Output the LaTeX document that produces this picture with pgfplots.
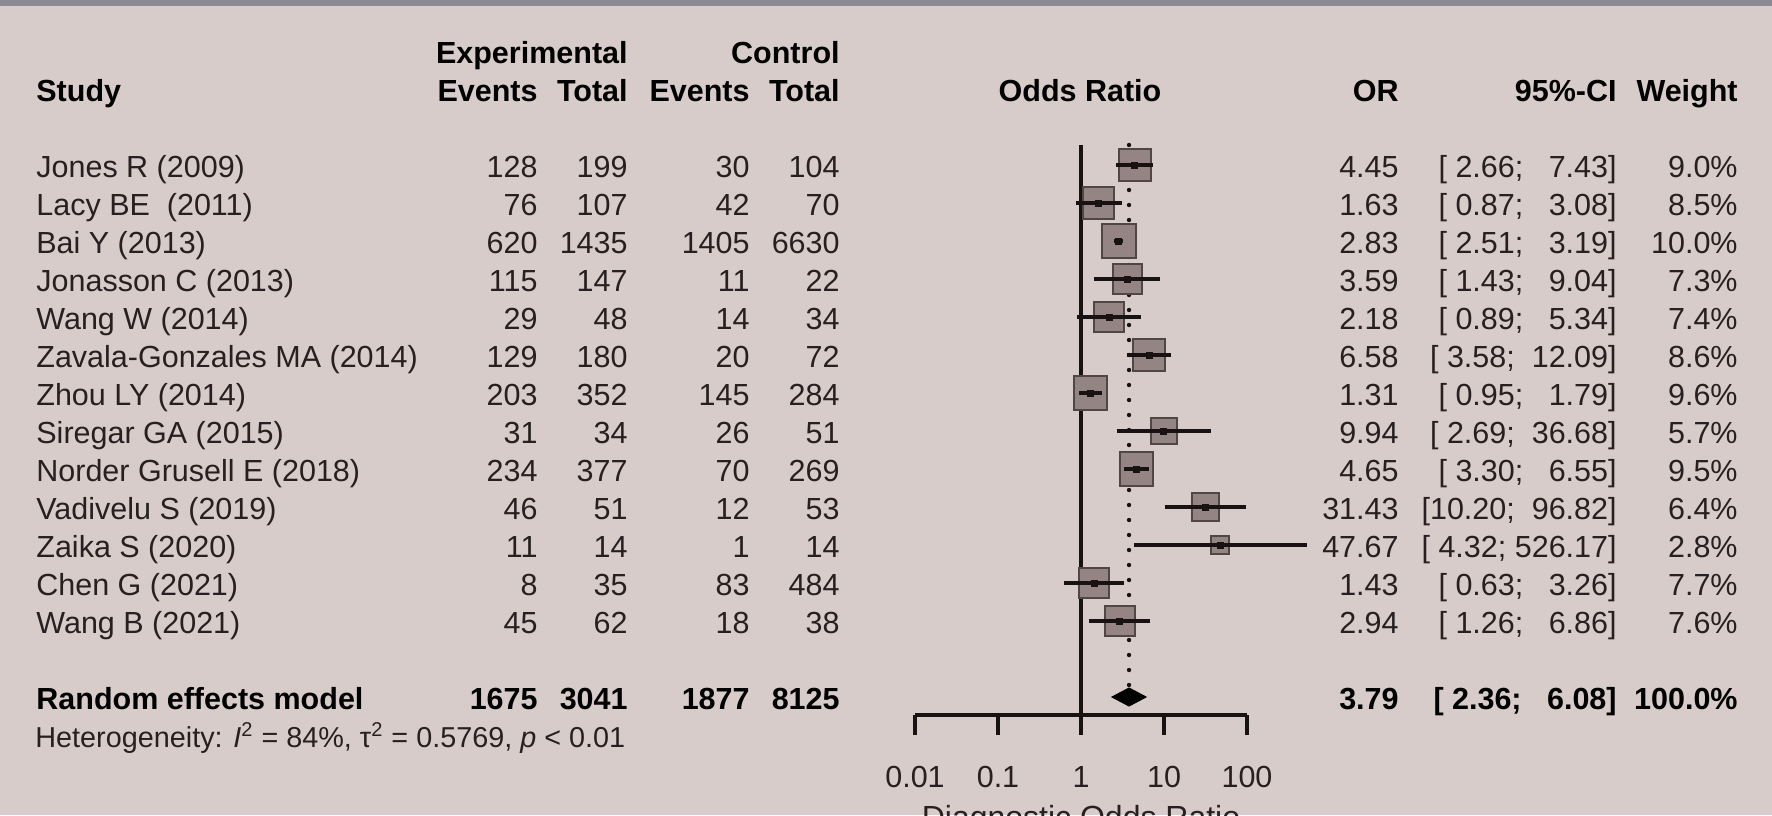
\documentclass[border=0pt]{standalone}
\usepackage{fontspec}
\setmainfont{Liberation Sans}
\usepackage{pgfplots}
\pgfplotsset{compat=1.18}
\usepackage{pgfplotstable}

\definecolor{bg}{RGB}{216,204,203}
\definecolor{band}{RGB}{138,137,148}
\definecolor{boxfill}{RGB}{148,132,132}
\definecolor{boxdraw}{RGB}{80,70,70}
\definecolor{txt}{RGB}{40,32,32}
\definecolor{lin}{RGB}{25,18,18}

% study estimates: OR, CI, weight (%), vertical position (px from top, negated)
\pgfplotstableread{
or lo hi w y
4.45 2.66 7.43 9.0 -165
1.63 0.87 3.08 8.5 -203
2.83 2.51 3.19 10.0 -241
3.59 1.43 9.04 7.3 -279
2.18 0.89 5.34 7.4 -317
6.58 3.58 12.09 8.6 -355
1.31 0.95 1.79 9.6 -393
9.94 2.69 36.68 5.7 -431
4.65 3.30 6.55 9.5 -469
31.43 10.20 96.82 6.4 -507
47.67 4.32 526.17 2.8 -545
1.43 0.63 3.26 7.7 -583
2.94 1.26 6.86 7.6 -621
}\studies

\newcommand{\studyrow}[9]{%
  \node[anchor=base west] at (36,#9) {#1};
  \node[anchor=base east] at (538,#9) {#2};
  \node[anchor=base east] at (628,#9) {#3};
  \node[anchor=base east] at (750,#9) {#4};
  \node[anchor=base east] at (840,#9) {#5};
  \node[anchor=base east] at (1399,#9) {#6};
  \node[anchor=base east] at (1617,#9) {#7};
  \node[anchor=base east] at (1738,#9) {#8};
}

\begin{document}
\begin{tikzpicture}[font=\fontsize{15.25pt}{18pt}\selectfont]
\path[use as bounding box, fill=bg] (0pt,0pt) rectangle (886pt,-407.5pt);
\fill[band] (0pt,0pt) rectangle (886pt,-3pt);

\begin{axis}[
  at={(457.5pt,-357.5pt)}, anchor=south west,
  scale only axis, width=166pt, height=287.5pt,
  xmode=log, xmin=0.01, xmax=100, ymin=-715, ymax=-140,
  clip=false, clip marker paths=true,
  axis x line*=bottom, axis y line=none,
  xtick={0.01,0.1,1,10,100}, xticklabels={0.01,0.1,1,10,100},
  xminorticks=false, ytick=\empty,
  tick align=outside, major tick length=10pt,
  x axis line style={line width=1.6pt, lin, -},
  xtick style={line width=1.6pt, lin},
  xticklabel style={font=\fontsize{15.25pt}{18pt}\selectfont, anchor=base, yshift=-26.25pt, text=txt, inner sep=0pt},
  /pgf/number format/assume math mode=true,
  xlabel={Diagnostic Odds Ratio},
  xlabel style={at={(axis description cs:0.5,0)}, anchor=base, yshift=-56.5pt,
    font=\fontsize{16pt}{19pt}\selectfont, text=txt, inner sep=0pt},
]
% line of no effect
\addplot[lin, line width=1.6pt] coordinates {(1,-145) (1,-715)};
% pooled estimate (dotted)
\addplot[lin, line width=2.2pt, line cap=round, dash pattern=on 0pt off 7.5pt]
  coordinates {(3.79,-145) (3.79,-688)};
% weight boxes
\addplot[scatter, only marks, mark=square*, point meta=\thisrow{w},
  scatter/use mapped color={draw=boxdraw, fill=boxfill},
  mark options={line width=1pt},
  visualization depends on={8.5*sqrt(\thisrow{w}/10) \as \msize},
  scatter/@pre marker code/.append style={/tikz/mark size=\msize pt}]
  table[x=or, y=y]{\studies};
% confidence intervals
\addplot[lin, line width=1.6pt, unbounded coords=jump] table {
x y
2.66 -165
7.43 -165
nan nan
0.87 -203
3.08 -203
nan nan
2.51 -241
3.19 -241
nan nan
1.43 -279
9.04 -279
nan nan
0.89 -317
5.34 -317
nan nan
3.58 -355
12.09 -355
nan nan
0.95 -393
1.79 -393
nan nan
2.69 -431
36.68 -431
nan nan
3.30 -469
6.55 -469
nan nan
10.20 -507
96.82 -507
nan nan
4.32 -545
526.17 -545
nan nan
0.63 -583
3.26 -583
nan nan
1.26 -621
6.86 -621
};
% centre points
\addplot[only marks, mark=square*, mark size=1.5pt, lin] table[x=or, y=y]{\studies};
% diamond
\addplot[fill=black, draw=black, line width=0.5pt]
  coordinates {(2.36,-697) (3.79,-688) (6.08,-697) (3.79,-706)} -- cycle;
\end{axis}

\begin{scope}[x=0.5pt, y=-0.5pt, every node/.style={inner sep=0pt, text=txt}]
% headers
\begin{scope}[every node/.append style={font=\fontsize{15.25pt}{18pt}\selectfont\bfseries, text=black}]
\node[anchor=base east] at (628,63) {Experimental};
\node[anchor=base east] at (840,63) {Control};
\node[anchor=base west] at (36,101) {Study};
\node[anchor=base east] at (538,101) {Events};
\node[anchor=base east] at (628,101) {Total};
\node[anchor=base east] at (750,101) {Events};
\node[anchor=base east] at (840,101) {Total};
\node[anchor=base] at (1080,101) {Odds Ratio};
\node[anchor=base east] at (1399,101) {OR};
\node[anchor=base east] at (1617,101) {95\%-CI};
\node[anchor=base east] at (1738,101) {Weight};
\end{scope}
% studies
\studyrow{Jones R (2009)}{128}{199}{30}{104}{4.45}{[~2.66;~~~7.43]}{9.0\%}{177}
\studyrow{Lacy BE~~(2011)}{76}{107}{42}{70}{1.63}{[~0.87;~~~3.08]}{8.5\%}{215}
\studyrow{Bai Y (2013)}{620}{1435}{1405}{6630}{2.83}{[~2.51;~~~3.19]}{10.0\%}{253}
\studyrow{Jonasson C (2013)}{115}{147}{11}{22}{3.59}{[~1.43;~~~9.04]}{7.3\%}{291}
\studyrow{Wang W (2014)}{29}{48}{14}{34}{2.18}{[~0.89;~~~5.34]}{7.4\%}{329}
\studyrow{Zavala-Gonzales MA (2014)}{129}{180}{20}{72}{6.58}{[~3.58;~~12.09]}{8.6\%}{367}
\studyrow{Zhou LY (2014)}{203}{352}{145}{284}{1.31}{[~0.95;~~~1.79]}{9.6\%}{405}
\studyrow{Siregar GA (2015)}{31}{34}{26}{51}{9.94}{[~2.69;~~36.68]}{5.7\%}{443}
\studyrow{Norder Grusell E (2018)}{234}{377}{70}{269}{4.65}{[~3.30;~~~6.55]}{9.5\%}{481}
\studyrow{Vadivelu S (2019)}{46}{51}{12}{53}{31.43}{[10.20;~~96.82]}{6.4\%}{519}
\studyrow{Zaika S (2020)}{11}{14}{1}{14}{47.67}{[~4.32;~526.17]}{2.8\%}{557}
\studyrow{Chen G (2021)}{8}{35}{83}{484}{1.43}{[~0.63;~~~3.26]}{7.7\%}{595}
\studyrow{Wang B (2021)}{45}{62}{18}{38}{2.94}{[~1.26;~~~6.86]}{7.6\%}{633}
% pooled
\begin{scope}[every node/.append style={font=\fontsize{15.25pt}{18pt}\selectfont\bfseries, text=black}]
\studyrow{Random effects model}{1675}{3041}{1877}{8125}{3.79}{[~2.36;~~~6.08]}{100.0\%}{709}
\end{scope}
\node[anchor=base west, font=\fontsize{14.4pt}{17pt}\selectfont] at (35,747)
  {Heterogeneity: \textit{I}\textsuperscript{2} = 84\%, τ\textsuperscript{2} = 0.5769, \textit{p} < 0.01};
\end{scope}
\end{tikzpicture}
\end{document}
